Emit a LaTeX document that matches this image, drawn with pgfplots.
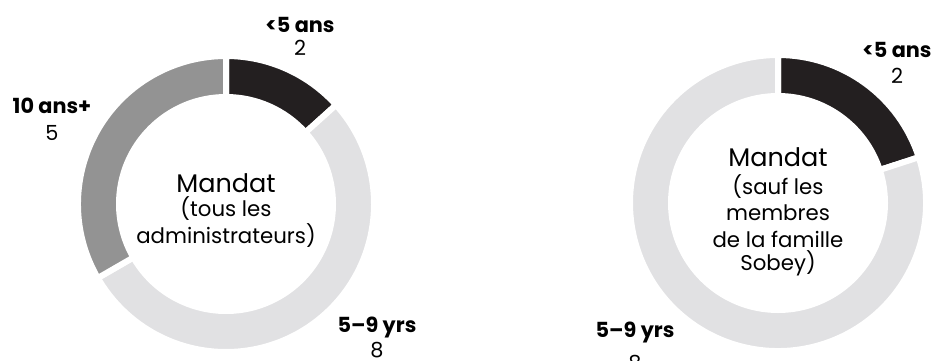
\documentclass[border=0pt]{standalone}
\usepackage{pgfplots}
\pgfplotsset{compat=1.18}
\usepackage{pgfplotstable}
\usepackage{fontspec}
\setmainfont{Poppins}

\definecolor{tenureDark}{HTML}{231F20}
\definecolor{tenureMid}{HTML}{939393}
\definecolor{tenureLight}{HTML}{E1E1E3}

% Board tenure, all directors
\pgfplotstableread{
group value colour
lt5   2     tenureDark
mid   8     tenureLight
ge10  5     tenureMid
}\tenureAll

% Board tenure, excluding Sobey family members
\pgfplotstableread{
group value colour
lt5   2     tenureDark
mid   8     tenureLight
}\tenureIndep

% Builds the ring segments of one donut into \ringpaths,
% clockwise from 12 o'clock. #1 table, #2/#3 centre in axis units.
\newcommand\buildring[3]{%
  \pgfplotstablegetrowsof{#1}%
  \pgfmathtruncatemacro\lastrow{\pgfplotsretval-1}%
  \def\total{0}%
  \pgfplotsforeachungrouped \i in {0,...,\lastrow}{%
    \pgfplotstablegetelem{\i}{value}\of{#1}%
    \pgfmathsetmacro\total{\total+\pgfplotsretval}%
  }%
  \def\cum{0}%
  \pgfplotsforeachungrouped \i in {0,...,\lastrow}{%
    \pgfplotstablegetelem{\i}{value}\of{#1}\let\val\pgfplotsretval
    \pgfplotstablegetelem{\i}{colour}\of{#1}\let\col\pgfplotsretval
    \pgfmathsetmacro\angA{90-360*\cum/\total}%
    \pgfmathsetmacro\angB{90-360*(\cum+\val)/\total}%
    \pgfmathsetmacro\cum{\cum+\val}%
    \xdef\ringpaths{\ringpaths
      \noexpand\fill[\col,draw=white,line width=6pt,line join=round]
        ([shift={(\angA:148pt)}]axis cs:#2,#3)
        arc[start angle=\angA,end angle=\angB,radius=148pt]
        -- ([shift={(\angB:107pt)}]axis cs:#2,#3)
        arc[start angle=\angB,end angle=\angA,radius=107pt] -- cycle;}%
  }%
}

\gdef\ringpaths{}
\buildring{\tenureAll}{226}{156}
\buildring{\tenureIndep}{778}{157}

\newcommand\lab{\fontsize{20.8}{22}\selectfont}
\newcommand\sub{\fontsize{21.3}{23}\selectfont}
\newcommand\ttl{\fontsize{25.5}{28}\selectfont}

\begin{document}
\begin{tikzpicture}
\begin{axis}[
  x=1pt, y=1pt,
  xmin=0, xmax=933, ymin=0, ymax=360,
  hide axis, clip=false, scale only axis,
]
  \ringpaths

  \coordinate (bl) at (axis cs:0,0);
  \coordinate (tr) at (axis cs:933,360);

  % left donut: all directors
  \node[anchor=base] at (axis cs:300,328) {\lab\bfseries <5 ans};
  \node[anchor=base] at (axis cs:300,305) {\lab 2};
  \node[anchor=base] at (axis cs:52,247) {\lab\bfseries 10 ans+};
  \node[anchor=base] at (axis cs:52,220) {\lab 5};
  \node[anchor=base] at (axis cs:377,28) {\lab\bfseries 5–9 yrs};
  \node[anchor=base] at (axis cs:377,3) {\lab 8};

  \node[anchor=base] at (axis cs:226,168) {\ttl Mandat};
  \node[anchor=base] at (axis cs:226,144) {\sub (tous les};
  \node[anchor=base] at (axis cs:226,117) {\sub administrateurs)};

  % right donut: excluding family members
  \node[anchor=base] at (axis cs:897,303) {\lab\bfseries <5 ans};
  \node[anchor=base] at (axis cs:897,277) {\lab 2};
  \node[anchor=base] at (axis cs:635,23) {\lab\bfseries 5–9 yrs};
  \node[anchor=base] at (axis cs:635,-10) {\lab 8};

  \node[anchor=base] at (axis cs:778,194) {\ttl Mandat};
  \node[anchor=base] at (axis cs:778,166) {\sub (sauf les};
  \node[anchor=base] at (axis cs:778,140) {\sub membres};
  \node[anchor=base] at (axis cs:778,113) {\sub de la famille};
  \node[anchor=base] at (axis cs:778,90) {\sub Sobey)};
\end{axis}
\pgfresetboundingbox
\path[use as bounding box] (bl) rectangle (tr);
\end{tikzpicture}
\end{document}
